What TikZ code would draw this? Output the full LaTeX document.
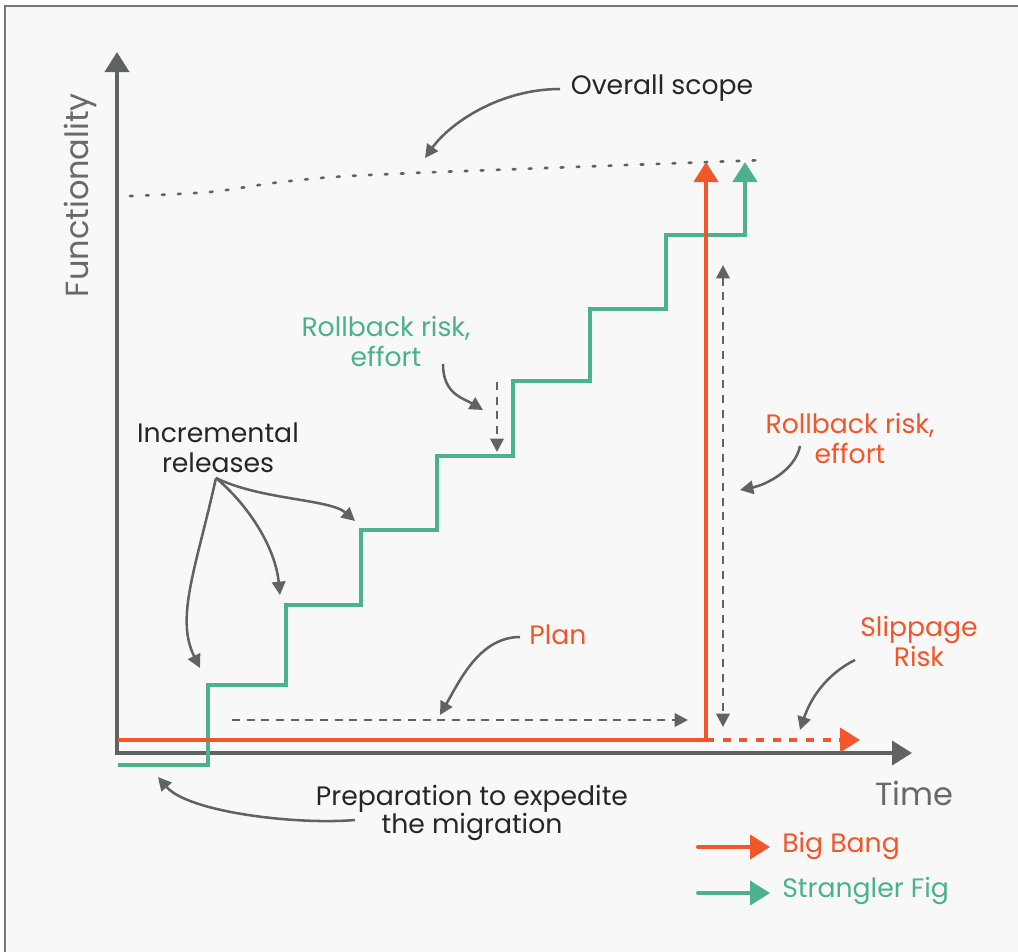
\documentclass[tikz,border=0pt]{standalone}
\usepackage{fontspec}
\setmainfont{Poppins}
\usetikzlibrary{arrows.meta}

\definecolor{bang}{RGB}{241,87,42}
\definecolor{fig}{RGB}{76,178,140}
\definecolor{axisgray}{RGB}{96,99,99}
\definecolor{labelgray}{RGB}{105,105,105}
\definecolor{inkdark}{RGB}{38,38,38}
\definecolor{paper}{RGB}{248,248,248}
\definecolor{framegray}{RGB}{120,120,120}

\begin{document}
\begin{tikzpicture}[
  x=0.75pt, y=-0.75pt,
  bighead/.style={-{Triangle[length=15pt,width=18pt]}},
  axis/.style={axisgray, line width=3pt, {Triangle[length=15pt,width=18pt]}-{Triangle[length=15pt,width=18pt]}},
  bigbang/.style={bang, line width=3pt, bighead},
  strangler/.style={fig, line width=3pt, bighead},
  pointer/.style={axisgray, line width=1.9pt, -{Triangle[length=10pt,width=10pt]}},
  dashpointer/.style={pointer, dash pattern=on 6pt off 5pt},
  note/.style={font=\fontsize{20}{22.5}\selectfont, align=center, inner sep=0pt},
  axislabel/.style={font=\fontsize{24}{28}\selectfont, text=labelgray, inner sep=0pt}
]

% canvas and frame
\fill[white] (0,0) rectangle (1018,951);
\useasboundingbox (0,0) rectangle (1018,951);
\draw[framegray, line width=1.5pt, fill=paper] (5,6) rectangle (1030,960);

% axes
\coordinate (origin) at (117,753);
\coordinate (ytop) at (117,52);
\coordinate (xend) at (912,753);
\draw[axis] (ytop) -- (origin) -- (xend);
\node[axislabel, rotate=90] (funclabel) at (80,195) {Functionality};
\node[axislabel] (timelabel) at (914,793) {Time};

% overall scope
\draw[axisgray, line width=2pt, line cap=round, dash pattern=on 2pt off 10pt]
  plot[smooth] coordinates {(130,196) (210,192) (273,183) (333,177) (413,173) (493,170) (600,166) (765,160)};

% strangler fig
\coordinate (s0) at (118,765);
\coordinate (s9) at (745,162);
\draw[strangler] (s0) -- (208,765) -- (208,685) -- (286,685) -- (286,605) -- (361,605)
  -- (361,530) -- (437,530) -- (437,456) -- (513,456) -- (513,381) -- (590,381)
  -- (590,309) -- (666,309) -- (666,235) -- (745,235) -- (s9);

% big bang
\coordinate (b0) at (118,740);
\coordinate (bturn) at (706,740);
\coordinate (btop) at (706,162);
\coordinate (bslip) at (860,740);
\draw[bigbang] (b0) -- (bturn) -- (btop);
\draw[bigbang, dash pattern=on 6pt off 6.5pt] (bturn) -- (bslip);

% labels
\node[note, text=inkdark] (scope) at (662,88) {Overall scope};
\node[note, text=fig] (figrisk) at (386,341) {Rollback risk,\\effort};
\node[note, text=inkdark] (increments) at (218,448) {Incremental\\releases};
\node[note, text=bang] (bangrisk) at (850,438) {Rollback risk,\\effort};
\node[note, text=bang] (plan) at (558,635) {Plan};
\node[note, text=bang] (slippage) at (919,641) {Slippage\\Risk};
\node[note, text=inkdark, font=\fontsize{20}{21}\selectfont] (prep) at (472,813) {Preparation to expedite\\the migration};

% pointer ends
\coordinate (scopetip) at (425,158);
\coordinate (figtip) at (483,410);
\coordinate (inc1) at (355,521);
\coordinate (inc2) at (280,595);
\coordinate (inc3) at (200,668);
\coordinate (bangtip) at (740,490);
\coordinate (plantip) at (440,715);
\coordinate (sliptip) at (800,730);
\coordinate (preptip) at (158,777);
\coordinate (incfrom) at (216,478);

\draw[pointer] (560,89) .. controls +(-60,0) and +(25,-35) .. (scopetip);
\draw[pointer] (443,364) .. controls +(0,30) and +(-20,-12) .. (figtip);
\draw[pointer] (incfrom) .. controls +(45,22) and +(-25,-22) .. (inc1);
\draw[pointer] (incfrom) .. controls +(30,25) and +(-5,-50) .. (inc2);
\draw[pointer] (incfrom) .. controls +(-20,90) and +(-25,-50) .. (inc3);
\draw[pointer] (800,446) .. controls +(-5,25) and +(25,-5) .. (bangtip);
\draw[pointer] (520,637) .. controls +(-40,0) and +(20,-35) .. (plantip);
\draw[pointer] (855,660) .. controls +(-30,15) and +(10,-30) .. (sliptip);
\draw[pointer] (355,820) .. controls +(-60,5) and +(30,35) .. (preptip);

% dashed spans
\coordinate (figdash0) at (497,382);
\coordinate (figdash1) at (497,452);
\draw[dashpointer] (figdash0) -- (figdash1);
\coordinate (plan0) at (232,720);
\coordinate (plan1) at (688,720);
\draw[dashpointer] (plan0) -- (plan1);
\coordinate (risk0) at (723,265);
\coordinate (risk1) at (723,727);
\draw[dashpointer, {Triangle[length=10pt,width=10pt]}-{Triangle[length=10pt,width=10pt]}] (risk0) -- (risk1);

% legend
\coordinate (leg1a) at (698,847);
\coordinate (leg1b) at (770,847);
\coordinate (leg2a) at (698,893);
\coordinate (leg2b) at (770,893);
\draw[bigbang, line cap=round] (leg1a) -- (leg1b);
\draw[strangler, line cap=round] (leg2a) -- (leg2b);
\node[note, text=bang, anchor=west] (legbang) at (782,846) {Big Bang};
\node[note, text=fig, anchor=west] (legfig) at (782,891) {Strangler Fig};

\end{tikzpicture}
\end{document}
